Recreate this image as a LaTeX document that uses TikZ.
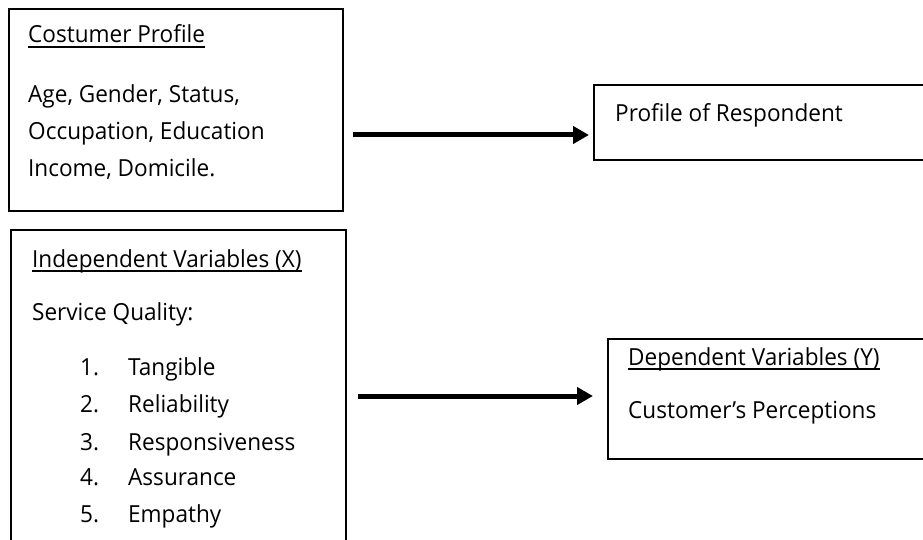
\documentclass[tikz,border=0pt]{standalone}
\usepackage{fontspec}
\setmainfont[FakeStretch=0.96]{Open Sans}
\usetikzlibrary{arrows.meta}
\begin{document}
\begin{tikzpicture}[x=1pt,y=-1pt,
  box/.style={draw=black,line width=1.6pt,anchor=north west,inner sep=0pt},
  txt/.style={anchor=base west,inner sep=0pt,font=\fontsize{23.5}{27}\selectfont},
  uline/.style={line width=1.4pt},
  bigarrow/.style={line width=5pt,-{Triangle[length=16pt,width=17pt]}}]
\useasboundingbox (0,0) rectangle (923,540);
% boxes
\node[box,minimum width=334pt,minimum height=202pt] (b1) at (8,8) {};
\node[box,minimum width=335pt,minimum height=330pt] (b2) at (10,229) {};
\node[box,minimum width=340pt,minimum height=75pt] (b3) at (593,84) {};
\node[box,minimum width=330pt,minimum height=120pt] (b4) at (607,338) {};
% box 1 texts
\node[txt] (t1) at (28,43) {Costumer Profile};
\draw[uline] ([yshift=-4pt]t1.base west) -- ([yshift=-4pt]t1.base east);
\node[txt] (t1a) at (28,103) {Age, Gender, Status,};
\node[txt] (t1b) at (28,140) {Occupation, Education};
\node[txt] (t1c) at (28,177) {Income, Domicile.};
% box 2 texts
\node[txt] (t2) at (32,267) {Independent Variables (X)};
\draw[uline] ([yshift=-4pt]t2.base west) -- ([yshift=-4pt]t2.base east);
\node[txt] (t2a) at (32,320) {Service Quality:};
\node[txt] (n1) at (80,375) {1.};
\node[txt] (i1) at (128,375) {Tangible};
\node[txt] (n2) at (80,412) {2.};
\node[txt] (i2) at (128,412) {Reliability};
\node[txt] (n3) at (80,450) {3.};
\node[txt] (i3) at (128,450) {Responsiveness};
\node[txt] (n4) at (80,485) {4.};
\node[txt] (i4) at (128,485) {Assurance};
\node[txt] (n5) at (80,522) {5.};
\node[txt] (i5) at (128,522) {Empathy};
% box 3 text
\node[txt] (t3) at (615,122) {Profile of Respondent};
% box 4 texts
\node[txt] (t4) at (628,365) {Dependent Variables (Y)};
\draw[uline] ([yshift=-4pt]t4.base west) -- ([yshift=-4pt]t4.base east);
\node[txt] (t4a) at (628,418) {Customer’s Perceptions};
% arrows
\coordinate (a1s) at (353,135);
\coordinate (a1e) at (589,135);
\coordinate (a2s) at (358,396);
\coordinate (a2e) at (593,396);
\draw[bigarrow] (a1s) -- (a1e);
\draw[bigarrow] (a2s) -- (a2e);
\end{tikzpicture}
\end{document}
